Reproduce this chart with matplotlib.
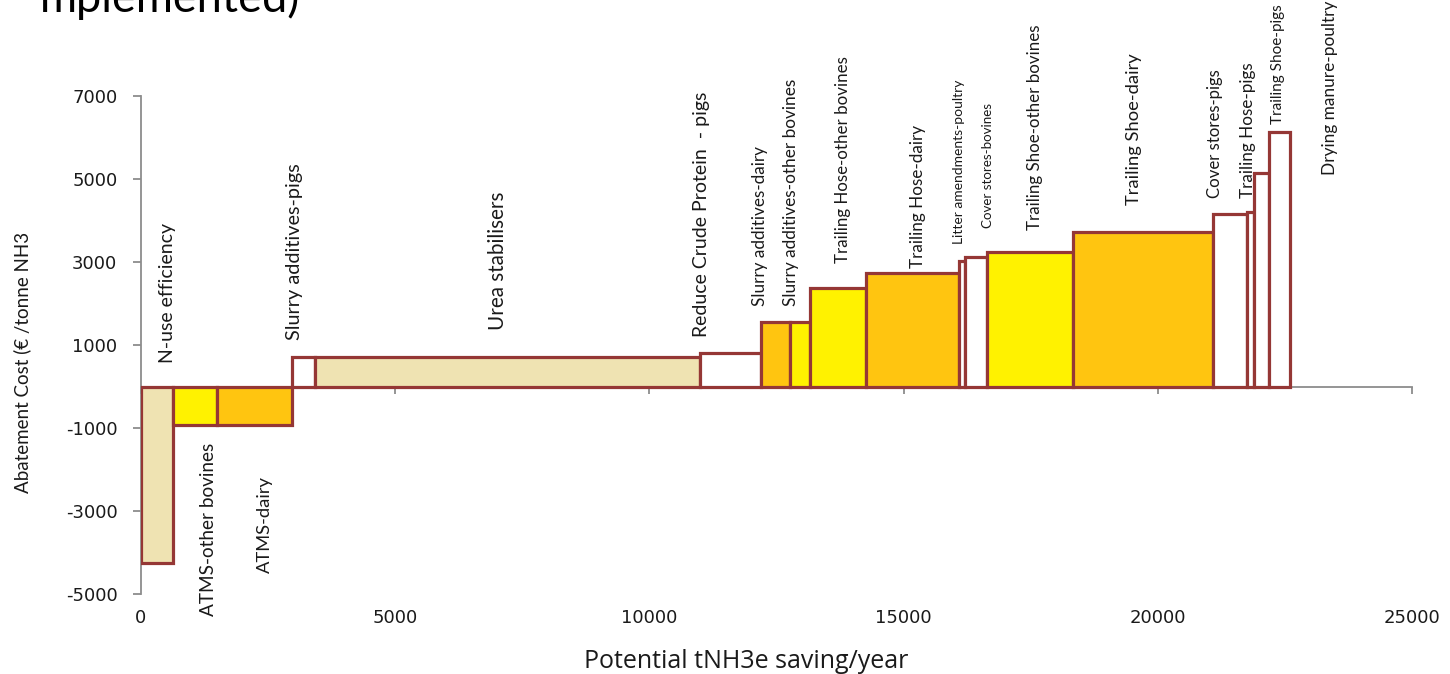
import numpy as np
import matplotlib
matplotlib.use("Agg")
import matplotlib.pyplot as plt
import matplotlib.transforms as mtransforms

# Abatement measures, in cost-curve order (width = potential saving, height = cost)
savings = [620, 866, 1476, 453, 7580, 1200, 570, 395, 1100, 1830,
           112, 433, 1700, 2744, 670, 138, 295, 425]          # tNH3e / year
costs = [-4250, -920, -920, 700, 700, 800, 1550, 1550, 2370, 2730,
         3030, 3130, 3230, 3730, 4160, 4200, 5140, 6130]       # EUR / tonne NH3
fill_groups = ["tan", "yellow", "orange", "white", "tan", "white", "orange", "yellow",
               "yellow", "orange", "white", "white", "yellow", "orange", "white",
               "white", "white", "white"]

measure_labels = ["N-use efficiency", "ATMS-other bovines", "ATMS-dairy",
                  "Slurry additives-pigs", "Urea stabilisers", "Reduce Crude Protein  - pigs",
                  "Slurry additives-dairy", "Slurry additives-other bovines",
                  "Trailing Hose-other bovines", "Trailing Hose-dairy",
                  "Litter amendments-poultry", "Cover stores-bovines",
                  "Trailing Shoe-other bovines", "Trailing Shoe-dairy",
                  "Cover stores-pigs", "Trailing Hose-pigs", "Trailing Shoe-pigs",
                  "Drying manure-poultry"]

x_ticks = [0, 5000, 10000, 15000, 20000, 25000]
y_ticks = [-5000, -3000, -1000, 1000, 3000, 5000, 7000]

# ---- layout / style ----
palette = {"tan": "#EFE3B2", "yellow": "#FFF200", "orange": "#FFC510", "white": "#FFFFFF"}
edge = "#953735"
axis_grey = "#8C8C8C"
text_col = "#1A1A1A"

# label anchor points (data coords, bottom-centre of the rotated text) and font sizes
label_anchor = [(512, 566), (1319, -5530), (2441, -4494), (3012, 1120), (7028, 1361),
                (11024, 1193), (12185, 1940), (12776, 1940), (13799, 2976),
                (15276, 2855), (16083, 3434), (16654, 3819), (17579, 3771),
                (19528, 4373), (21122, 4542), (21772, 4542), (22362, 6325),
                (23386, 5096)]
label_size = [14, 13.7, 13.2, 14.3, 14.9, 14, 12.3, 12.4, 12.2, 12.3,
              10, 9.6, 12.2, 13.2, 12.1, 12.3, 11, 12.4]

W, H = 1450, 674
fig = plt.figure(figsize=(W / 100, H / 100), dpi=100)
ax = fig.add_axes([141 / W, 1 - 594 / H, (1412 - 141) / W, (594 - 96) / H])

lefts = np.concatenate([[0], np.cumsum(savings)[:-1]])
ax.bar(lefts, costs, width=savings, align="edge",
       color=[palette[g] for g in fill_groups], edgecolor=edge, linewidth=2.3, zorder=3)

ax.set_xlim(0, 25000)
ax.set_ylim(-5000, 7000)

for s in ["top", "right"]:
    ax.spines[s].set_visible(False)
ax.spines["bottom"].set_position(("data", 0))
for s in ["bottom", "left"]:
    ax.spines[s].set_color(axis_grey)
    ax.spines[s].set_linewidth(1.3)
ax.spines["bottom"].set_zorder(2)

ax.set_yticks(y_ticks)
ax.set_yticklabels([str(v) for v in y_ticks], fontsize=13, color=text_col,
                   family="DejaVu Sans")
ax.set_xticks(x_ticks)
ax.set_xticklabels([])
ax.tick_params(axis="both", direction="out", color=axis_grey, width=1.3)
ax.tick_params(axis="y", length=6, pad=11)
ax.tick_params(axis="x", length=5)

# x tick labels sit below the plotting area
xt = mtransforms.blended_transform_factory(ax.transData, ax.transAxes)
for v in x_ticks:
    ax.text(v, -0.048, str(v), transform=xt, ha="center", va="center",
            fontsize=13, color=text_col, family="DejaVu Sans")

for name, (lx, ly), fs in zip(measure_labels, label_anchor, label_size):
    ax.text(lx, ly, name, rotation=90, ha="center", va="bottom", fontsize=fs,
            family="Lato", color=text_col, zorder=5, clip_on=False)

fig.text(22 / W, 1 - 362 / H, "Abatement Cost (\u20ac /tonne NH3", rotation=90,
         ha="center", va="center", fontsize=13.5, family="Lato", color=text_col)
fig.text(746 / W, 1 - 668 / H, "Potential tNH3e saving/year", ha="center",
         va="baseline", fontsize=18, family="Open Sans", color=text_col)

fig.text(40 / W, 1 - 12 / H, "mplemented)", ha="left", va="baseline",
         fontsize=32.5, family="Lato", color="#000000")

fig.savefig("out.png", dpi=100, facecolor="white")
